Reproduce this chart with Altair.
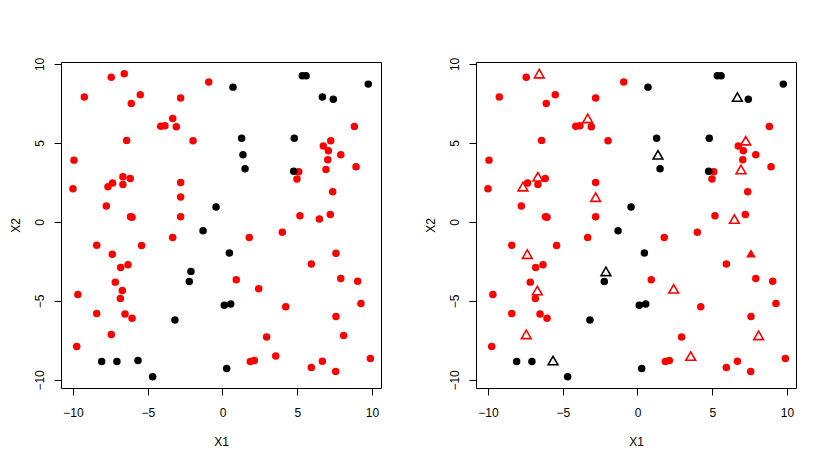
import altair as alt
import pandas as pd

# Point coordinates
x1 = [-7.44, -6.57, -0.92, -9.24, -5.50, -6.10, -2.80, -3.33, -4.13, -3.85,
      -3.09, -6.41, -1.97, -9.93, -6.66, -6.17, -7.35, -7.66, -6.66, -10.0,
      -2.80, -2.80, -7.77, -6.15, -6.05, -2.80, 8.82, 7.24, 6.74, 7.08,
      7.91, 7.04, 8.93, 6.92, 5.10, 4.98, 7.37, 5.18, 6.48, 7.21,
      -3.33, -8.41, -5.41, -7.37, -6.81, -6.32, -7.17, -6.70, -6.83, -9.67,
      -8.41, -6.52, -6.05, -7.44, -9.75, 1.79, 4.00, 7.59, 5.94, 0.92,
      2.42, 7.91, 9.04, 4.23, 9.26, 7.59, 8.10, 2.95, 3.56, 1.86,
      2.13, 5.94, 6.68, 7.57, 9.89,
      -0.43, 5.34, 5.59, 0.70, 9.75, 6.68, 7.41, 1.28, 4.80, 1.37,
      1.51, 4.76, -1.30, -2.11, -2.22, -3.18, -8.08, -7.06, -5.65, -4.67,
      0.12, 0.55, 0.46, 0.28]
x2 = [9.15, 9.38, 8.85, 7.90, 8.05, 7.50, 7.84, 6.55, 6.06, 6.09,
      6.02, 5.16, 5.14, 3.91, 2.86, 2.75, 2.46, 2.23, 2.37, 2.10,
      2.50, 1.57, 1.00, 0.33, 0.30, 0.33, 6.04, 5.14, 4.80, 4.50,
      4.25, 3.94, 3.49, 3.32, 3.18, 2.71, 1.91, 0.39, 0.18, 0.47,
      -0.98, -1.47, -1.49, -2.04, -2.88, -2.71, -3.81, -4.34, -4.84, -4.59,
      -5.79, -5.83, -6.09, -7.12, -7.88, -0.98, -0.66, -1.99, -2.67, -3.66,
      -4.23, -3.58, -3.75, -5.37, -5.16, -5.98, -7.18, -7.29, -8.49, -8.83,
      -8.77, -9.21, -8.81, -9.46, -8.64,
      0.94, 9.25, 9.25, 8.53, 8.72, 7.90, 7.77, 5.30, 5.30, 4.25,
      3.37, 3.20, -0.56, -3.13, -3.77, -6.21, -8.83, -8.83, -8.77, -9.80,
      -5.28, -5.20, -1.97, -9.27]
cls = ["red"] * 75 + ["black"] * 24
# marker in the right panel: o = dot, t = open triangle, T = filled triangle
marker = ["o", "t", "o", "o", "o", "o", "o", "t", "o", "o",
          "o", "o", "o", "o", "t", "o", "o", "t", "o", "o",
          "o", "t", "o", "o", "o", "o", "o", "t", "o", "o",
          "o", "o", "o", "t", "o", "o", "o", "o", "t", "o",
          "o", "o", "o", "t", "o", "o", "o", "t", "o", "o",
          "o", "o", "o", "t", "o", "o", "o", "T", "o", "o",
          "t", "o", "o", "o", "o", "o", "t", "o", "t", "o",
          "o", "o", "o", "o", "o",
          "o", "o", "o", "o", "o", "t", "o", "o", "o", "t",
          "o", "o", "o", "t", "o", "o", "o", "o", "t", "o",
          "o", "o", "o", "o"]

x_ticks = [-10, -5, 0, 5, 10]
y_ticks = [-10, -5, 0, 5, 10]

df = pd.DataFrame({"X1": x1, "X2": x2, "cls": cls, "marker": marker})

FONT = "Liberation Sans"
W, H = 320, 326

xenc = alt.X("X1:Q",
             scale=alt.Scale(domain=[-10.8, 10.6], nice=False, zero=False),
             axis=alt.Axis(values=x_ticks, title="X1", grid=False, domain=False,
                           labelPadding=12, titlePadding=18,
                           labelFlush=False, labelOverlap=False))
yenc = alt.Y("X2:Q",
             scale=alt.Scale(domain=[-10.51, 10.12], nice=False, zero=False),
             axis=alt.Axis(values=y_ticks, title="X2", grid=False, domain=False,
                           labelAngle=270, labelAlign="center", labelBaseline="bottom",
                           labelPadding=8, titlePadding=11,
                           labelFlush=False, labelOverlap=False))
color = alt.Color("cls:N",
                  scale=alt.Scale(domain=["black", "red"], range=["#000000", "#FF0000"]),
                  legend=None)

base = alt.Chart(df).encode(x=xenc, y=yenc, color=color)

left = base.mark_circle(size=56, opacity=1).properties(width=W, height=H)

right_dots = base.transform_filter(alt.datum.marker == "o").mark_circle(size=56, opacity=1)
right_open = base.transform_filter(alt.datum.marker == "t").mark_point(
    shape="triangle-up", size=95, filled=False, strokeWidth=1.6, opacity=1)
right_fill = base.transform_filter(alt.datum.marker == "T").mark_point(
    shape="triangle-up", size=95, filled=True, opacity=1)
right = alt.layer(right_dots, right_open, right_fill).properties(width=W, height=H)

chart = alt.hconcat(left, right, spacing=95, bounds="flush").properties(
    padding={"left": 0, "top": 48, "right": 0, "bottom": 0},
    background="white"
).configure_view(
    stroke="#000000", strokeWidth=1
).configure_axis(
    grid=False, domain=False, tickColor="#000000", tickSize=7, tickWidth=1,
    labelFont=FONT, labelFontSize=12, labelColor="#000000",
    titleFont=FONT, titleFontSize=12, titleFontWeight="normal", titleColor="#000000"
)

chart.save("out.html", embed_options={"renderer": "svg", "actions": False})
